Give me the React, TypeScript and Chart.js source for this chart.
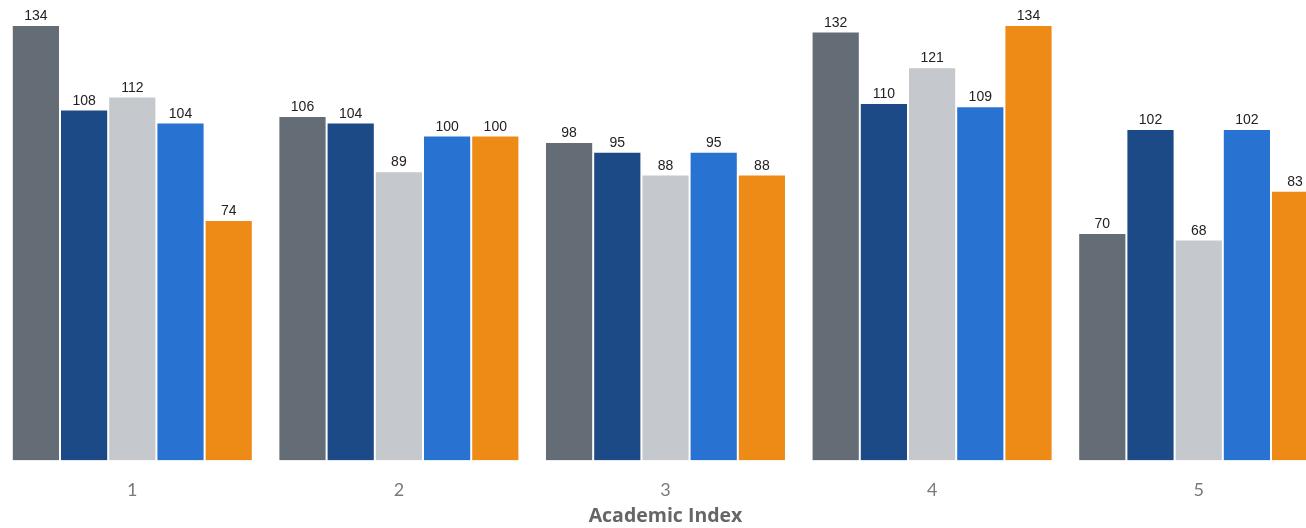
import React, { useEffect, useRef } from "react";
import { Chart, registerables } from "chart.js";

Chart.register(...registerables);

const categories = ["1", "2", "3", "4", "5"];
const seriesNames = ["Series A", "Series B", "Series C", "Series D", "Series E"];
const seriesA = [134, 106, 98, 132, 70];
const seriesB = [108, 104, 95, 110, 102];
const seriesC = [112, 89, 88, 121, 68];
const seriesD = [104, 100, 95, 109, 102];
const seriesE = [74, 100, 88, 134, 83];
const colors = ["#646C75", "#1B4A86", "#C5C8CC", "#2873D1", "#EE8B16"];
const axisTitle = "Academic Index";

const valueLabels = {
  id: "valueLabels",
  afterDatasetsDraw(chart: any) {
    const ctx = chart.ctx;
    ctx.save();
    ctx.font = "14px 'Liberation Sans', Arial, sans-serif";
    ctx.fillStyle = "#222222";
    ctx.textAlign = "center";
    ctx.textBaseline = "alphabetic";
    chart.data.datasets.forEach((ds: any, i: number) => {
      const meta = chart.getDatasetMeta(i);
      meta.data.forEach((el: any, j: number) => {
        ctx.fillText(String(ds.data[j]), el.x, el.y - 5);
      });
    });
    ctx.restore();
  },
};

export default function App() {
  const ref = useRef<HTMLCanvasElement | null>(null);
  useEffect(() => {
    if (!ref.current) return;
    const all = [seriesA, seriesB, seriesC, seriesD, seriesE];
    const chart = new Chart(ref.current, {
      type: "bar",
      data: {
        labels: categories,
        datasets: all.map((d, i) => ({
          label: seriesNames[i],
          data: d,
          backgroundColor: colors[i],
          borderColor: "rgba(255,255,255,0.85)",
          borderWidth: 1,
          categoryPercentage: 0.904,
          barPercentage: 1,
        })),
      },
      options: {
        animation: false,
        responsive: false,
        maintainAspectRatio: false,
        layout: { padding: { top: 5.5, left: 0, right: 0, bottom: 0 } },
        plugins: {
          legend: { display: false },
          tooltip: { enabled: false },
        },
        scales: {
          x: {
            grid: { display: false, drawTicks: false },
            border: { display: false },
            ticks: {
              color: "#7a7a7a",
              font: { family: "Lato, 'Open Sans', sans-serif", size: 18 },
              padding: 18.5,
            },
            title: {
              display: true,
              text: axisTitle,
              color: "#666666",
              font: { family: "'Open Sans', Lato, sans-serif", size: 19.5, weight: "bold" },
              padding: { top: -14.5, bottom: 0 },
            },
          },
          y: {
            display: false,
            min: 0,
            max: 140,
          },
        },
      },
      plugins: [valueLabels],
    });
    return () => chart.destroy();
  }, []);
  return (
    <div
      style={{
        position: "fixed",
        left: 0,
        top: 0,
        width: 1306,
        height: 528,
        overflow: "hidden",
        background: "#fff",
      }}
    >
      <div style={{ position: "absolute", left: -1, top: 0, width: 1333, height: 528 }}>
        <canvas ref={ref} width={1333} height={528} style={{ width: 1333, height: 528 }} />
      </div>
    </div>
  );
}
